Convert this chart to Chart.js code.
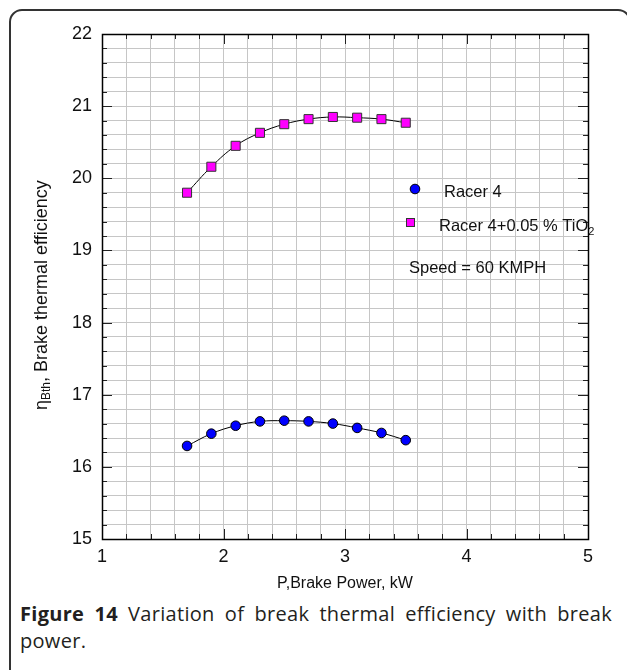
<!DOCTYPE html>
<html>
<head>
<meta charset="utf-8">
<script src="https://cdn.jsdelivr.net/npm/chart.js@4.4.1/dist/chart.umd.min.js"></script>
<style>
  html, body { margin: 0; padding: 0; background: #fff; }
  #wrap { position: relative; width: 627px; height: 670px; overflow: hidden; }
  #frame {
    position: absolute; left: 9px; top: 9px; width: 622px; height: 720px;
    border: 2px solid #333; border-radius: 13px; box-sizing: border-box;
  }
  #chart { position: absolute; left: 0; top: 0; }
  #caption {
    position: absolute; left: 20px; top: 600px; width: 592px;
    font-family: "Open Sans", "Noto Sans", sans-serif; font-size: 20px;
    letter-spacing: 0.3px; color: #231f20; line-height: 27px;
  }
  #caption .l1 { text-align: justify; text-align-last: justify; white-space: nowrap; }
</style>
</head>
<body>
<div id="wrap">
  <div id="frame"></div>
  <canvas id="chart" width="627" height="600"></canvas>
  <div id="caption">
    <div class="l1"><b>Figure 14</b> Variation of break thermal efficiency with break</div>
    <div>power.</div>
  </div>
</div>
<script>
// brake power, kW
const brakePower = [1.7, 1.9, 2.1, 2.3, 2.5, 2.7, 2.9, 3.1, 3.3, 3.5];
// brake thermal efficiency
const racer4 = [16.29, 16.46, 16.57, 16.63, 16.64, 16.63, 16.60, 16.54, 16.47, 16.37];
const racer4Tio2 = [19.80, 20.16, 20.45, 20.63, 20.75, 20.82, 20.85, 20.84, 20.82, 20.77];

const xTickLabels = [1, 2, 3, 4, 5];
const yTickLabels = [15, 16, 17, 18, 19, 20, 21, 22];

const toPoints = (ys) => brakePower.map((x, i) => ({ x, y: ys[i] }));
const isMajor = (v) => Math.abs(v - Math.round(v)) < 1e-6;
const FONT = "'Liberation Sans', Arial, sans-serif";

// frame, inward ticks, axis titles and the in-plot legend
const decorations = {
  id: "decorations",
  beforeDatasetsDraw(chart) {
    const { ctx, chartArea: a, scales } = chart;
    ctx.save();
    ctx.strokeStyle = "#222";
    ctx.lineWidth = 1;
    const line = (x1, y1, x2, y2) => {
      ctx.beginPath();
      ctx.moveTo(x1, y1);
      ctx.lineTo(x2, y2);
      ctx.stroke();
    };
    scales.x.ticks.forEach((t) => {
      const px = Math.round(scales.x.getPixelForValue(t.value)) + 0.5;
      const len = isMajor(t.value) ? 10 : 5;
      line(px, a.bottom, px, a.bottom - len);
      line(px, a.top, px, a.top + len);
    });
    scales.y.ticks.forEach((t) => {
      const py = Math.round(scales.y.getPixelForValue(t.value)) + 0.5;
      const len = isMajor(t.value) ? 10 : 5;
      line(a.left, py, a.left + len, py);
      line(a.right, py, a.right - len, py);
    });
    ctx.lineWidth = 1.5;
    ctx.strokeStyle = "#000";
    ctx.strokeRect(Math.round(a.left) + 0.5, Math.round(a.top) + 0.5,
      Math.round(a.width), Math.round(a.height));
    ctx.restore();
  },
  afterDraw(chart) {
    const { ctx, chartArea: a } = chart;
    ctx.save();
    ctx.fillStyle = "#111";
    ctx.textBaseline = "middle";

    // x title
    ctx.font = "16px " + FONT;
    ctx.textAlign = "center";
    ctx.fillText("P,Brake Power, kW", (a.left + a.right) / 2, a.bottom + 45);

    // y title, rotated, with subscript
    ctx.translate(42, 410);
    ctx.rotate(-Math.PI / 2);
    ctx.textAlign = "left";
    let cx = 0;
    ctx.font = "18px " + FONT;
    ctx.fillText("\u03b7", cx, 0);
    cx += ctx.measureText("\u03b7").width;
    ctx.font = "12px " + FONT;
    ctx.fillText("Bth", cx, 5);
    cx += ctx.measureText("Bth").width;
    ctx.font = "18px " + FONT;
    ctx.fillText(", Brake thermal efficiency", cx, 0);
    ctx.setTransform(1, 0, 0, 1, 0, 0);

    // legend
    const lx = a.left;
    const ly = a.top;
    ctx.lineWidth = 1;
    ctx.strokeStyle = "#000";
    ctx.fillStyle = "#0000ff";
    ctx.beginPath();
    ctx.arc(lx + 313, ly + 155, 4.8, 0, Math.PI * 2);
    ctx.fill();
    ctx.stroke();
    ctx.fillStyle = "#ff00ff";
    ctx.strokeStyle = "#333";
    ctx.fillRect(lx + 304, ly + 184, 9, 9);
    ctx.strokeRect(lx + 304.5, ly + 184.5, 8, 8);

    ctx.fillStyle = "#111";
    ctx.font = "16.5px " + FONT;
    ctx.fillText("Racer 4", lx + 342, ly + 158);
    const t2 = "Racer 4+0.05 % TiO";
    ctx.fillText(t2, lx + 337, ly + 192);
    const w2 = ctx.measureText(t2).width;
    ctx.font = "11px " + FONT;
    ctx.fillText("2", lx + 337 + w2, ly + 198);
    ctx.font = "16.5px " + FONT;
    ctx.fillText("Speed = 60 KMPH", lx + 307, ly + 234);
    ctx.restore();
  },
};

const gridOpts = { color: "#c6c6c6", lineWidth: 1, drawTicks: false };

new Chart(document.getElementById("chart"), {
  type: "line",
  data: {
    datasets: [
      {
        label: "Racer 4",
        data: toPoints(racer4),
        borderColor: "#000",
        borderWidth: 1,
        tension: 0.4,
        pointStyle: "circle",
        pointRadius: 4.8,
        pointBackgroundColor: "#0000ff",
        pointBorderColor: "#000",
        pointBorderWidth: 1,
      },
      {
        label: "Racer 4+0.05 % TiO2",
        data: toPoints(racer4Tio2),
        borderColor: "#000",
        borderWidth: 1,
        tension: 0.4,
        pointStyle: "rect",
        pointRadius: 6.4,
        pointBackgroundColor: "#ff00ff",
        pointBorderColor: "#333",
        pointBorderWidth: 1,
      },
    ],
  },
  options: {
    responsive: false,
    animation: false,
    devicePixelRatio: 1,
    layout: { padding: { top: 34, right: 39, left: 0, bottom: 0 } },
    plugins: { legend: { display: false }, tooltip: { enabled: false } },
    scales: {
      x: {
        type: "linear",
        min: 1,
        max: 5,
        border: { display: false },
        grid: gridOpts,
        ticks: {
          stepSize: 0.2,
          maxTicksLimit: 50,
          autoSkip: false,
          maxRotation: 0,
          padding: 7,
          color: "#111",
          font: { family: FONT, size: 18 },
          callback: (v) => (xTickLabels.includes(Math.round(v)) && isMajor(v) ? Math.round(v) : ""),
        },
        afterFit: (s) => { s.height = 61; },
      },
      y: {
        min: 15,
        max: 22,
        border: { display: false },
        grid: gridOpts,
        ticks: {
          stepSize: 0.2,
          maxTicksLimit: 50,
          autoSkip: false,
          padding: 10,
          color: "#111",
          font: { family: FONT, size: 18 },
          callback: (v) => (yTickLabels.includes(Math.round(v)) && isMajor(v) ? Math.round(v) : ""),
        },
        afterFit: (s) => { s.width = 102; },
      },
    },
  },
  plugins: [decorations],
});
</script>
</body>
</html>
